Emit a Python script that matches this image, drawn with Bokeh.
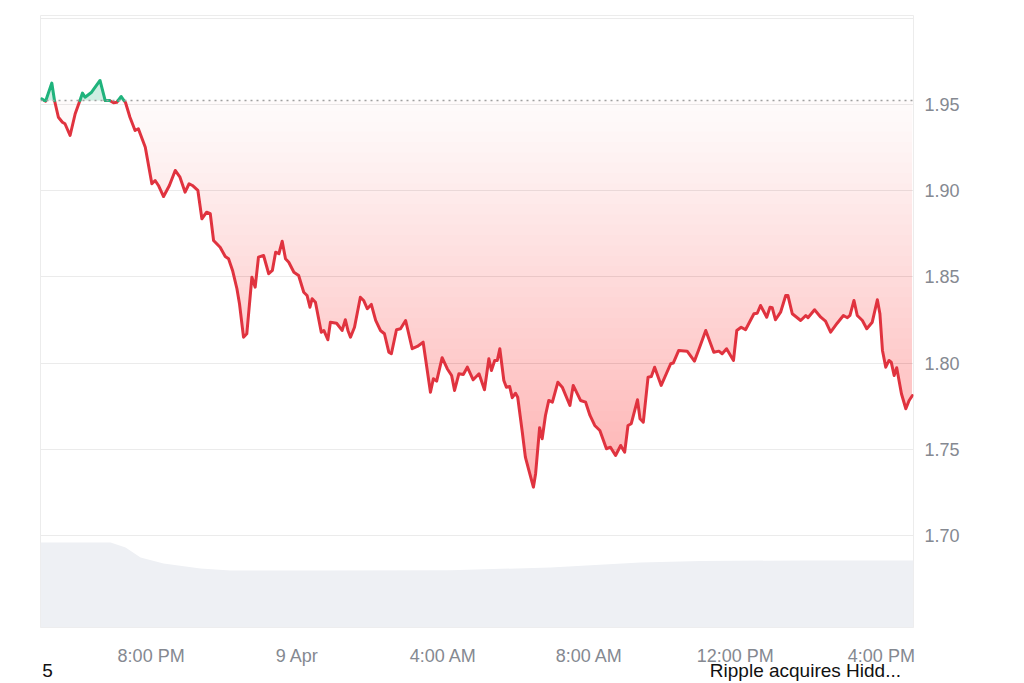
import numpy as np
from bokeh.plotting import figure
from bokeh.models import Range1d, FixedTicker, Span, LinearAxis
from bokeh.embed import file_html
from bokeh.resources import INLINE

# ---- data (hours relative to 8:00 PM, 8 Apr) ----
hours = [-3.00, -2.89, -2.72, -2.65, -2.54, -2.43, -2.36, -2.22, -2.08, -1.95,
         -1.88, -1.81, -1.63, -1.40, -1.26, -1.14, -1.03, -0.94, -0.82, -0.70,
         -0.58, -0.44, -0.35, -0.16, 0.02, 0.11, 0.20, 0.34, 0.50, 0.66,
         0.79, 0.93, 1.04, 1.13, 1.28, 1.39, 1.52, 1.62, 1.71, 1.89,
         2.03, 2.12, 2.23, 2.35, 2.42, 2.53, 2.62, 2.76, 2.85, 2.94,
         3.08, 3.22, 3.32, 3.41, 3.50, 3.59, 3.68, 3.77, 3.91, 4.04,
         4.18, 4.27, 4.35, 4.41, 4.50, 4.66, 4.73, 4.84, 4.91, 5.08,
         5.23, 5.32, 5.39, 5.46, 5.57, 5.73, 5.82, 5.92, 6.03, 6.15,
         6.28, 6.39, 6.51, 6.58, 6.72, 6.83, 6.97, 7.15, 7.29, 7.45,
         7.65, 7.73, 7.82, 7.97, 8.11, 8.23, 8.31, 8.43, 8.55, 8.66,
         8.82, 8.98, 9.13, 9.25, 9.32, 9.41, 9.48, 9.55, 9.66, 9.73,
         9.82, 9.89, 9.98, 10.04, 10.16, 10.25, 10.37, 10.47, 10.53, 10.64,
         10.71, 10.80, 10.89, 10.99, 11.14, 11.26, 11.47, 11.56, 11.76, 11.90,
         12.02, 12.15, 12.29, 12.47, 12.58, 12.72, 12.86, 12.97, 13.06, 13.15,
         13.32, 13.39, 13.48, 13.61, 13.70, 13.79, 13.97, 14.23, 14.30, 14.45,
         14.68, 14.88, 14.99, 15.19, 15.41, 15.55, 15.64, 15.76, 15.95, 16.04,
         16.16, 16.28, 16.51, 16.60, 16.69, 16.86, 16.95, 17.01, 17.10, 17.24,
         17.38, 17.44, 17.56, 17.79, 17.93, 17.99, 18.17, 18.34, 18.47, 18.61,
         18.79, 18.96, 19.07, 19.14, 19.25, 19.34, 19.48, 19.60, 19.75, 19.89,
         19.96, 20.03, 20.12, 20.21, 20.27, 20.35, 20.42, 20.55, 20.67, 20.76,
         20.85]

price = [1.9533, 1.9519, 1.9624, 1.9527, 1.9426, 1.9397, 1.9388, 1.9320, 1.9446, 1.9523,
         1.9566, 1.9542, 1.9571, 1.9639, 1.9523, 1.9523, 1.9510, 1.9513, 1.9546, 1.9510,
         1.9426, 1.9349, 1.9359, 1.9252, 1.9040, 1.9059, 1.9030, 1.8966, 1.9030, 1.9117,
         1.9078, 1.8991, 1.9040, 1.9030, 1.9001, 1.8837, 1.8875, 1.8866, 1.8711, 1.8672,
         1.8618, 1.8605, 1.8537, 1.8431, 1.8344, 1.8150, 1.8170, 1.8498, 1.8440, 1.8614,
         1.8624, 1.8518, 1.8537, 1.8643, 1.8634, 1.8707, 1.8605, 1.8585, 1.8527, 1.8508,
         1.8411, 1.8392, 1.8324, 1.8373, 1.8353, 1.8179, 1.8189, 1.8135, 1.8237, 1.8231,
         1.8189, 1.8251, 1.8189, 1.8150, 1.8208, 1.8382, 1.8363, 1.8315, 1.8340, 1.8247,
         1.8189, 1.8170, 1.8063, 1.8054, 1.8193, 1.8199, 1.8247, 1.8083, 1.8096, 1.8121,
         1.7831, 1.7909, 1.7895, 1.8031, 1.7967, 1.7928, 1.7841, 1.7938, 1.7934, 1.7976,
         1.7903, 1.7938, 1.7845, 1.8025, 1.7957, 1.8015, 1.8015, 1.8083, 1.7899, 1.7860,
         1.7864, 1.7799, 1.7825, 1.7802, 1.7609, 1.7454, 1.7358, 1.7280, 1.7358, 1.7625,
         1.7561, 1.7696, 1.7783, 1.7773, 1.7889, 1.7860, 1.7754, 1.7870, 1.7783, 1.7773,
         1.7696, 1.7638, 1.7609, 1.7503, 1.7512, 1.7464, 1.7522, 1.7483, 1.7638, 1.7648,
         1.7787, 1.7677, 1.7657, 1.7918, 1.7922, 1.7976, 1.7870, 1.7996, 1.8000, 1.8073,
         1.8069, 1.8011, 1.8073, 1.8189, 1.8063, 1.8069, 1.8054, 1.8083, 1.8015, 1.8189,
         1.8208, 1.8193, 1.8286, 1.8289, 1.8334, 1.8266, 1.8324, 1.8321, 1.8251, 1.8295,
         1.8392, 1.8392, 1.8286, 1.8247, 1.8276, 1.8263, 1.8309, 1.8266, 1.8243, 1.8179,
         1.8231, 1.8276, 1.8263, 1.8276, 1.8363, 1.8276, 1.8247, 1.8199, 1.8237, 1.8367,
         1.8286, 1.8073, 1.7976, 1.8015, 1.8005, 1.7928, 1.7973, 1.7822, 1.7735, 1.7783,
         1.7812]

baseline_price = 1.9523

vol_hours = [-3.03, -1.11, -0.70, -0.29, 0.34, 1.35, 2.17, 4.09, 8.2, 10.94, 13.4, 15.05, 17.79, 20.88]
volume = [3.33, 3.33, 3.14, 2.75, 2.51, 2.31, 2.24, 2.24, 2.25, 2.35, 2.55, 2.61, 2.63, 2.63]

x_ticks = [0, 4, 8, 12, 16, 20]
x_tick_labels = ["8:00 PM", "9 Apr", "4:00 AM", "8:00 AM", "12:00 PM", "4:00 PM"]
y_ticks = [1.70, 1.75, 1.80, 1.85, 1.90, 1.95, 2.00]
y_tick_labels = ["1.70", "1.75", "1.80", "1.85", "1.90", "1.95", ""]

# bottom caption texts (placed at hour positions)
caption_hours = [-2.84, 17.92]
caption_texts = ["5", "Ripple acquires Hidd..."]

RED = "#e0333f"
GREEN = "#1fb37c"
FONT = "Liberation Sans"

# ---- split at baseline crossings ----
t = np.array(hours, dtype=float)
v = np.array(price, dtype=float)
base = baseline_price
rt, rv = [t[0]], [v[0]]
for i in range(1, len(t)):
    a = v[i - 1] - base
    b = v[i] - base
    if a * b < 0:
        f = a / (a - b)
        rt.append(t[i - 1] + f * (t[i] - t[i - 1]))
        rv.append(base)
    rt.append(t[i])
    rv.append(v[i])
rt = np.array(rt)
rv = np.array(rv)
green_y = np.where(rv >= base, rv, np.nan)
red_y = np.where(rv <= base, rv, np.nan)

p = figure(width=1016, height=683, output_backend="svg", toolbar_location=None,
           x_range=Range1d(-3.03, 20.88), y_range=Range1d(1.6466, 2.0016),
           y_axis_location="right",
           min_border_left=40, min_border_top=15, min_border_right=103, min_border_bottom=56)
p.extra_y_ranges = {"vol": Range1d(0, 24)}
p.outline_line_color = "#ececec"
p.background_fill_color = "white"
p.border_fill_color = "white"

# volume area
p.varea(x=vol_hours, y1=0, y2=volume, y_range_name="vol", fill_color="#eef0f4", fill_alpha=1.0)

# gradient-like red fill between line and baseline
def alpha_at(d):
    return min(0.022 + 0.95 * d, 0.28)

levels = np.arange(0.0, 0.2401, 0.006)
prev_T = 1.0
for d in levels:
    T = 1.0 - alpha_at(d)
    a_k = 1.0 - T / prev_T
    prev_T = T
    lvl = base - d
    y2 = np.maximum(rv, np.minimum(base, lvl))
    p.varea(x=rt, y1=rv, y2=y2, fill_color=RED, fill_alpha=a_k)

# green fill above baseline
p.varea(x=rt, y1=base, y2=np.maximum(rv, base), fill_color=GREEN, fill_alpha=0.22)

p.add_layout(Span(location=base, dimension="width", line_color="#a0a0a0",
                  line_dash="2 4", line_width=1.5))

p.line(rt, red_y, line_color=RED, line_width=3, line_join="round", line_cap="round")
p.line(rt, green_y, line_color=GREEN, line_width=3, line_join="round", line_cap="round")

# axes
p.xaxis.ticker = FixedTicker(ticks=x_ticks)
p.xaxis.major_label_overrides = {tk: lb for tk, lb in zip(x_ticks, x_tick_labels)}
p.yaxis.ticker = FixedTicker(ticks=y_ticks)
p.yaxis.major_label_overrides = {tk: lb for tk, lb in zip(y_ticks, y_tick_labels)}

cap_axis = LinearAxis(ticker=FixedTicker(ticks=caption_hours),
                      major_label_overrides={tk: lb for tk, lb in zip(caption_hours, caption_texts)})
p.add_layout(cap_axis, "below")

for ax in list(p.xaxis) + list(p.yaxis):
    ax.axis_line_color = None
    ax.major_tick_line_color = None
    ax.minor_tick_line_color = None
    ax.major_tick_out = 0
    ax.major_tick_in = 0
    ax.minor_tick_out = 0
    ax.minor_tick_in = 0
    ax.major_label_text_font = FONT
    ax.major_label_text_font_size = "18px"
for ax in (p.xaxis[0], p.yaxis[0]):
    ax.major_label_text_color = "#858991"
p.xaxis[0].major_label_standoff = 18
p.yaxis[0].major_label_standoff = 11
cap_axis.major_label_text_color = "#111111"
cap_axis.major_label_text_font_size = "19px"
cap_axis.major_label_standoff = -9
p.xgrid.grid_line_color = None
p.ygrid.grid_line_color = "#ebebeb"
p.ygrid.grid_line_width = 1

open("out.html", "w").write(file_html(p, INLINE))
